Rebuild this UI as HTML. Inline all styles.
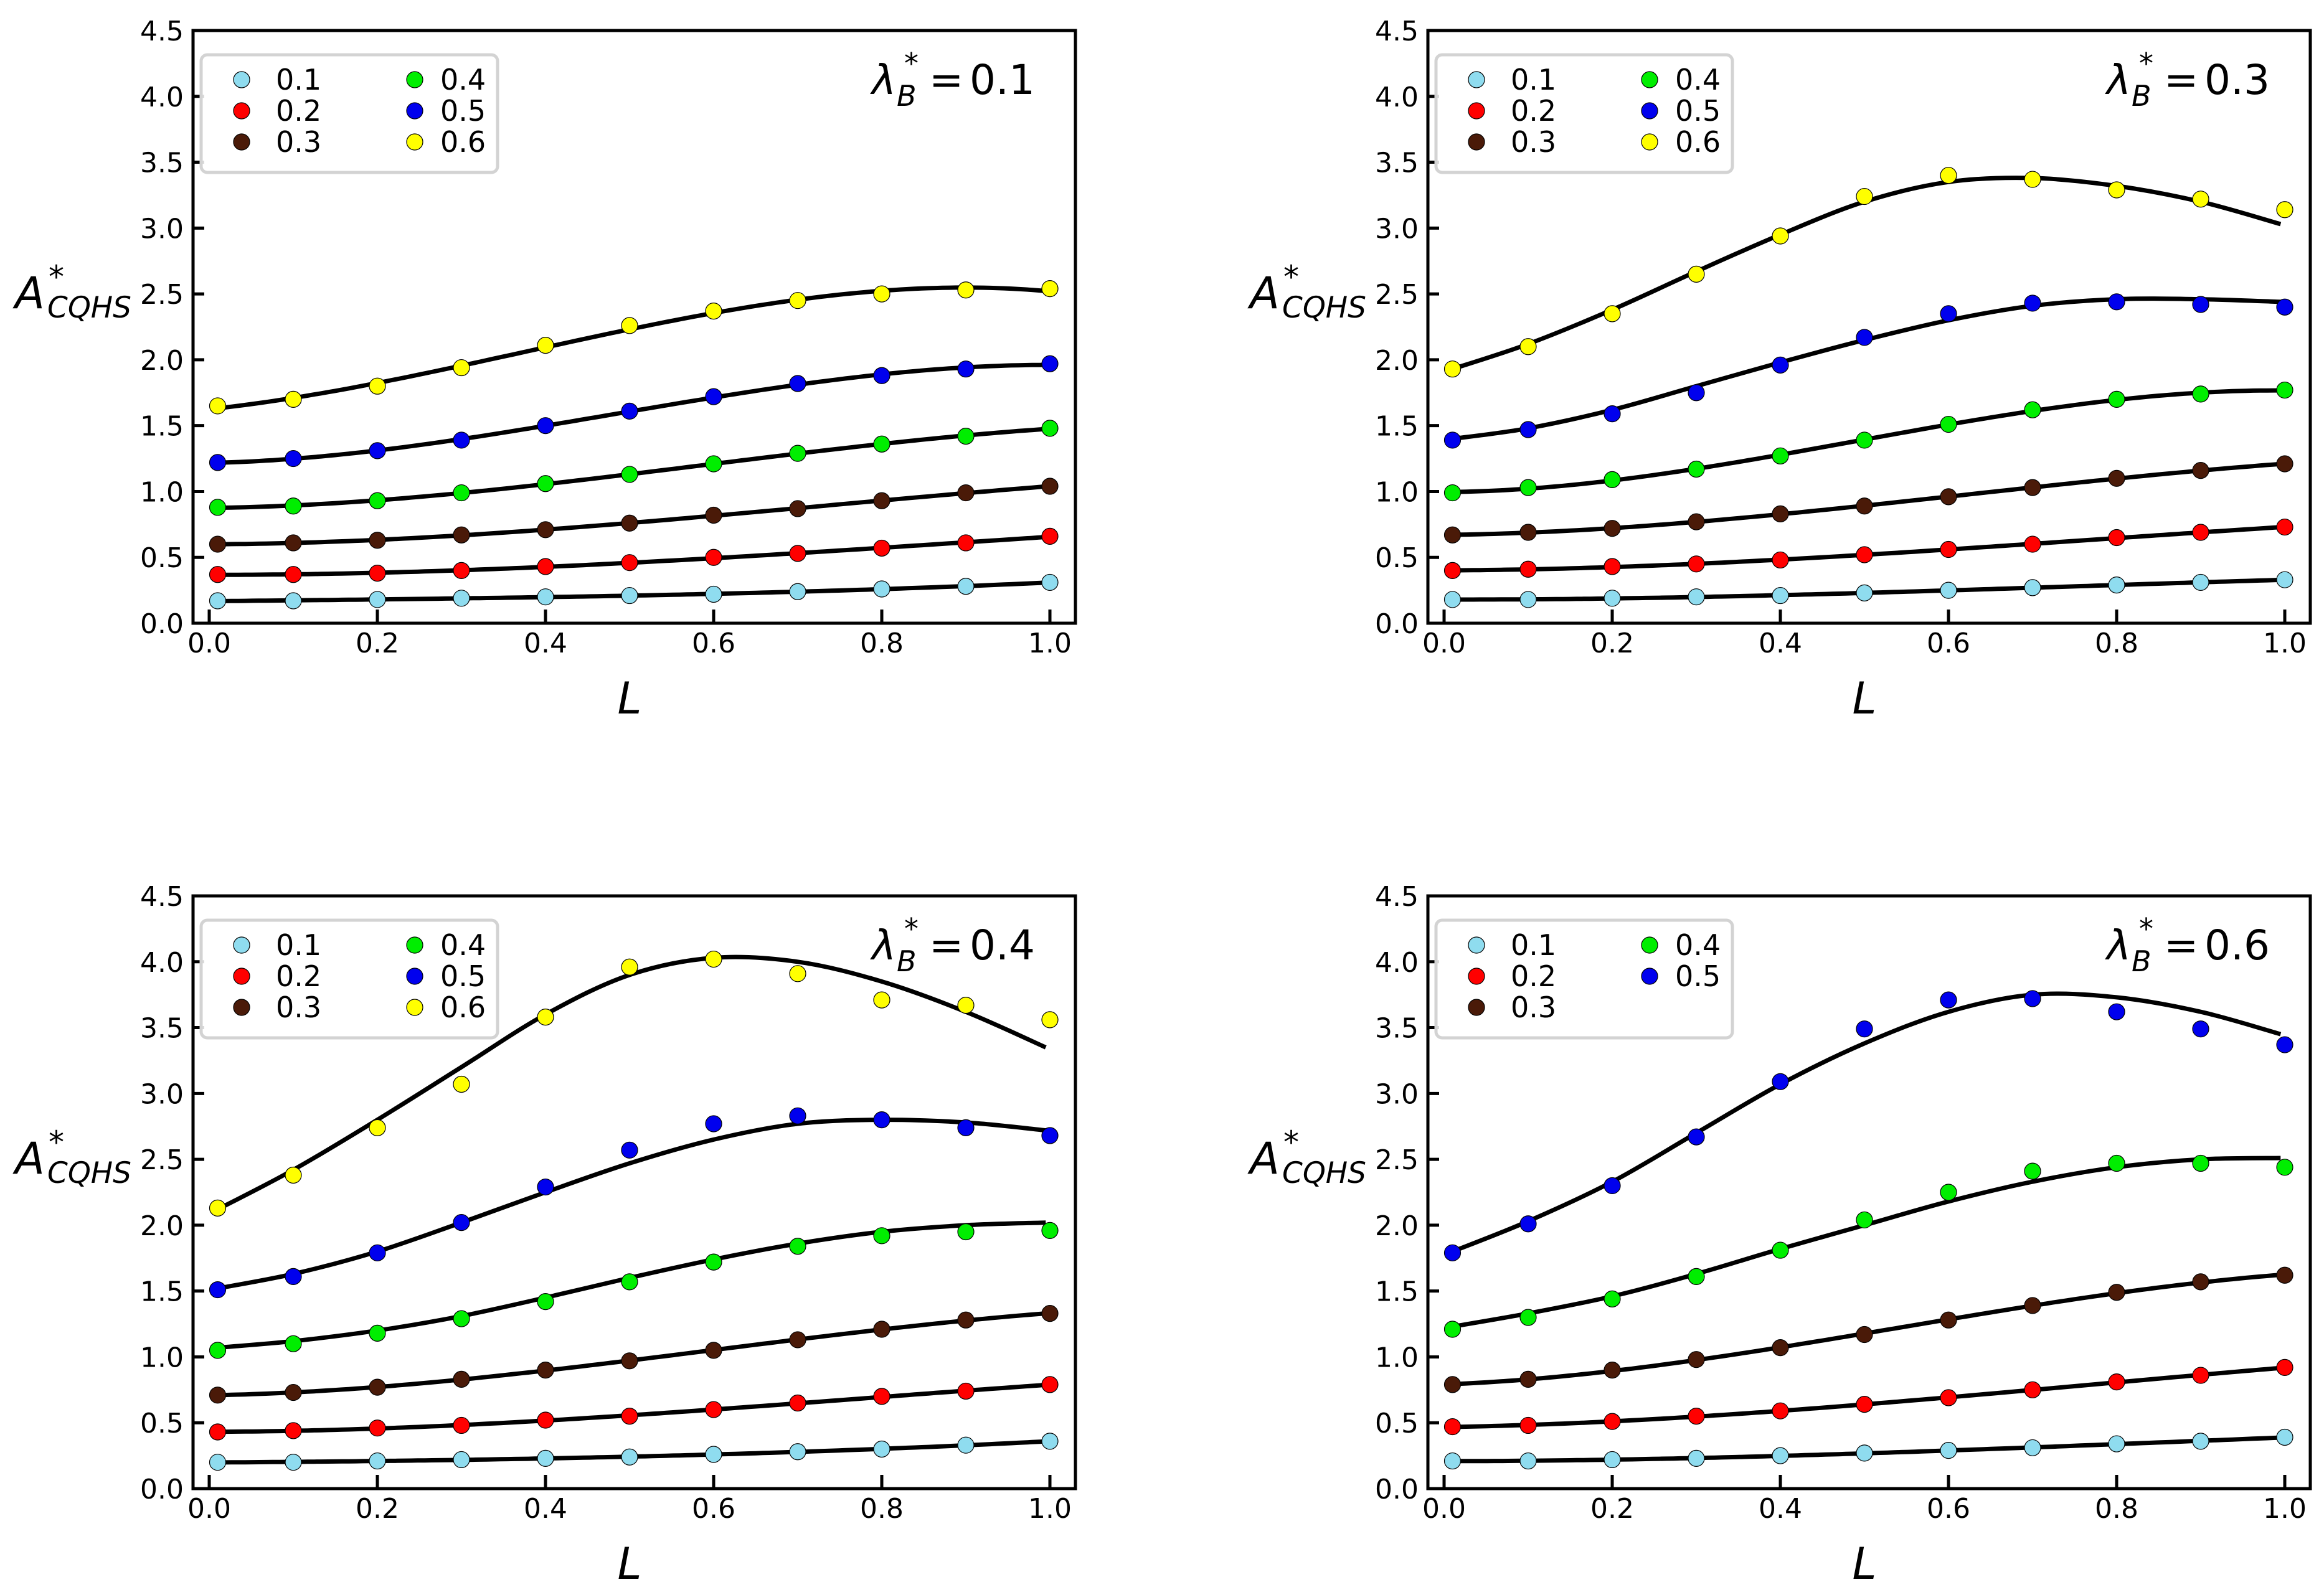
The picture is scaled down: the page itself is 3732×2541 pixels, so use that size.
<!DOCTYPE html>
<html><head><meta charset="utf-8"><style>
html,body{margin:0;padding:0;background:#fff;}
svg{display:block;}
text{font-family:"DejaVu Sans","Liberation Sans",sans-serif;fill:#000;}
</style></head><body>
<svg id="fig" width="3732" height="2541" viewBox="0 0 3732 2541" xmlns="http://www.w3.org/2000/svg"></svg>
<script>
const xValues=[0.01,0.1,0.2,0.3,0.4,0.5,0.6,0.7,0.8,0.9,1.0];
const curveX=[0.01,0.1,0.2,0.3,0.4,0.5,0.6,0.7,0.8,0.9,0.995];
const seriesLabels=["0.1","0.2","0.3","0.4","0.5","0.6"];
const seriesColors=["#8fdcef","#ff0000","#4a1a08","#00ee00","#0000ee","#ffff00"];
const yTicks=[0,0.5,1,1.5,2,2.5,3,3.5,4,4.5];
const xTicks=[0,0.2,0.4,0.6,0.8,1.0];
const panelTitles=["0.1","0.3","0.4","0.6"];
const p1=[[0.17,0.17,0.18,0.19,0.2,0.21,0.22,0.24,0.26,0.28,0.31],
[0.37,0.37,0.38,0.4,0.43,0.46,0.5,0.53,0.57,0.61,0.66],
[0.6,0.61,0.63,0.67,0.71,0.76,0.82,0.87,0.93,0.99,1.04],
[0.88,0.89,0.93,0.99,1.06,1.13,1.21,1.29,1.36,1.42,1.48],
[1.22,1.25,1.31,1.39,1.5,1.61,1.72,1.82,1.88,1.93,1.97],
[1.65,1.7,1.8,1.94,2.11,2.26,2.37,2.45,2.5,2.53,2.54]];
const p2=[[0.18,0.18,0.19,0.2,0.21,0.23,0.25,0.27,0.29,0.31,0.33],
[0.4,0.41,0.43,0.45,0.48,0.52,0.56,0.6,0.65,0.69,0.73],
[0.67,0.69,0.72,0.77,0.83,0.89,0.96,1.03,1.1,1.16,1.21],
[0.99,1.03,1.09,1.17,1.27,1.39,1.51,1.62,1.7,1.74,1.77],
[1.39,1.47,1.59,1.75,1.96,2.17,2.35,2.43,2.44,2.42,2.4],
[1.93,2.1,2.35,2.65,2.94,3.24,3.4,3.37,3.29,3.22,3.14]];
const p3=[[0.2,0.2,0.21,0.22,0.23,0.24,0.26,0.28,0.3,0.33,0.36],
[0.43,0.44,0.46,0.48,0.52,0.55,0.6,0.65,0.7,0.74,0.79],
[0.71,0.73,0.77,0.83,0.9,0.97,1.05,1.13,1.21,1.28,1.33],
[1.05,1.1,1.18,1.29,1.42,1.57,1.72,1.84,1.92,1.95,1.96],
[1.51,1.61,1.79,2.02,2.29,2.57,2.77,2.83,2.8,2.74,2.68],
[2.13,2.38,2.74,3.07,3.58,3.96,4.02,3.91,3.71,3.67,3.56]];
const p4=[[0.21,0.21,0.22,0.23,0.25,0.27,0.29,0.31,0.34,0.36,0.39],
[0.47,0.48,0.51,0.55,0.59,0.64,0.69,0.75,0.81,0.86,0.92],
[0.79,0.83,0.9,0.98,1.07,1.17,1.28,1.39,1.49,1.57,1.62],
[1.21,1.3,1.44,1.61,1.81,2.04,2.25,2.41,2.47,2.47,2.44],
[1.79,2.01,2.3,2.67,3.09,3.49,3.71,3.72,3.62,3.49,3.37]];
const panelData=[p1,p2,p3,p4];
// fitted-curve values (null = use cubic least-squares fit of points)
const c2_05=[1.4,1.48,1.62,1.8,1.98,2.15,2.3,2.41,2.46,2.46,2.44];
const c2_06=[1.93,2.12,2.38,2.67,2.95,3.2,3.35,3.38,3.32,3.2,3.03];
const c3_04=[1.07,1.12,1.2,1.31,1.45,1.6,1.74,1.86,1.95,2.0,2.02];
const c3_05=[1.52,1.63,1.8,2.02,2.25,2.47,2.65,2.77,2.8,2.78,2.72];
const c3_06=[2.12,2.42,2.8,3.2,3.6,3.9,4.03,4.0,3.85,3.62,3.35];
const c4_04=[1.23,1.33,1.46,1.63,1.82,2.0,2.18,2.33,2.44,2.5,2.51];
const c4_05=[1.8,2.03,2.33,2.7,3.07,3.38,3.62,3.75,3.73,3.62,3.45];
const panelCurves=[[null,null,null,null,null,null],[null,null,null,null,c2_05,c2_06],[null,null,null,c3_04,c3_05,c3_06],[null,null,null,c4_04,c4_05]];

const NS="http://www.w3.org/2000/svg";
const svg=document.getElementById('fig');
function mk(tag,attrs,parent){const e=document.createElementNS(NS,tag);for(const k in attrs)e.setAttribute(k,attrs[k]);(parent||svg).appendChild(e);return e;}
function fitCubic(xs,ys){const n=4;const A=[];for(let i=0;i<n;i++){A.push(new Array(n+1).fill(0));}
 for(let k=0;k<xs.length;k++){for(let i=0;i<n;i++){for(let j=0;j<n;j++)A[i][j]+=Math.pow(xs[k],i+j);A[i][n]+=ys[k]*Math.pow(xs[k],i);}}
 for(let i=0;i<n;i++){let p=i;for(let r=i+1;r<n;r++)if(Math.abs(A[r][i])>Math.abs(A[p][i]))p=r;[A[i],A[p]]=[A[p],A[i]];
  for(let r=0;r<n;r++){if(r===i)continue;const f=A[r][i]/A[i][i];for(let c=i;c<=n;c++)A[r][c]-=f*A[i][c];}}
 return A.map((row,i)=>row[n]/row[i]);}
function catmull(P){let d='M'+P[0][0].toFixed(1)+','+P[0][1].toFixed(1);
 for(let i=0;i<P.length-1;i++){const p0=P[i-1]||P[i],p1=P[i],p2=P[i+1],p3=P[i+2]||P[i+1];
  const c1=[p1[0]+(p2[0]-p0[0])/6,p1[1]+(p2[1]-p0[1])/6],c2=[p2[0]-(p3[0]-p1[0])/6,p2[1]-(p3[1]-p1[1])/6];
  d+='C'+c1[0].toFixed(1)+','+c1[1].toFixed(1)+' '+c2[0].toFixed(1)+','+c2[1].toFixed(1)+' '+p2[0].toFixed(1)+','+p2[1].toFixed(1);}
 return d;}
const offsets=[[0,0],[1983,0],[0,1390],[1983,1390]];
panelData.forEach((data,pi)=>{
 const ox=offsets[pi][0],oy=offsets[pi][1];
 const g=mk('g',{});
 
 
 const L=310+ox,R=1727+ox,T=49+oy,B=1001+oy;
 const sx=v=>336+ox+v*1350;
 const sy=v=>B-v*(B-T)/4.5;
 yTicks.forEach(t=>{const y=sy(t);
  const tk=mk('line',{x1:L,x2:L+18,y1:y,y2:y,stroke:'#000','stroke-width':5},g);
  
  
  const tl=mk('text',{x:295+ox,y:y+16,'text-anchor':'end','font-size':44},g);tl.textContent=t.toFixed(1);
  
  });
 xTicks.forEach(t=>{const x=sx(t);
  const tk=mk('line',{x1:x,x2:x,y1:B,y2:B-22,stroke:'#000','stroke-width':5},g);
  
  
  const tl=mk('text',{x:x,y:1048+oy,'text-anchor':'middle','font-size':44},g);tl.textContent=t.toFixed(1);
  
  });
 data.forEach((ys,si)=>{
  const cv=panelCurves[pi][si];let d='';
  if(cv){d=catmull(curveX.map((x,k)=>[sx(x),sy(cv[k])]));}
  else{const c=fitCubic(xValues,ys);
   for(let k=0;k<=120;k++){const x=0.01+k*(0.995-0.01)/120;const y=c[0]+c[1]*x+c[2]*x*x+c[3]*x*x*x;d+=(k?'L':'M')+sx(x).toFixed(1)+','+sy(y).toFixed(1);}}
  const pth=mk('path',{d:d,fill:'none',stroke:'#000','stroke-width':7,'stroke-linejoin':'round'},g);
  
  
 });
 data.forEach((ys,si)=>{
  ys.forEach((v,k)=>{const ci=mk('circle',{cx:sx(xValues[k]),cy:sy(v),r:13,fill:seriesColors[si],stroke:'#000','stroke-width':1.2},g);
   
   });
 });
 const fr=mk('rect',{x:L,y:T,width:R-L,height:B-T,fill:'none',stroke:'#000','stroke-width':5},g);
 
 
 const lg=mk('g',{},g);
 
 
 mk('rect',{x:323+ox,y:88+oy,width:476,height:189,rx:10,fill:'#fff','fill-opacity':0.85,stroke:'#d3d3d3','stroke-width':5},lg);
 data.forEach((ys,si)=>{const col=si<3?0:1,row=si%3;
  const mx=(col?666:388)+ox,my=[128,178,228][row]+oy;
  const e=mk('circle',{cx:mx,cy:my,r:13,fill:seriesColors[si],stroke:'#000','stroke-width':1.2},lg);
  
  
  const t=mk('text',{x:(col?707:443)+ox,y:my+16,'font-size':46},lg);t.textContent=seriesLabels[si];
  
  });
 // title
 const tg=mk('g',{},g);
 
 
 const t1=mk('text',{x:1400+ox,y:151+oy,'font-size':66,'font-style':'italic'},tg);t1.textContent='λ';
 const t2=mk('text',{x:1440+ox,y:170+oy,'font-size':46,'font-style':'italic'},tg);t2.textContent='B';
 const t3=mk('text',{x:1452+ox,y:118+oy,'font-size':46},tg);t3.textContent='*';
 const t4=mk('text',{x:1492+ox,y:151+oy,'font-size':66},tg);t4.textContent='=';
 const t5=mk('text',{x:1662+ox,y:151+oy,'font-size':66,'text-anchor':'end'},tg);t5.textContent=panelTitles[pi];
 // y label
 const yg=mk('g',{},g);
 
 
 const a1=mk('text',{x:24+ox,y:495+oy,'font-size':70,'font-style':'italic'},yg);a1.textContent='A';
 const a2=mk('text',{x:76+ox,y:510+oy,'font-size':47,'font-style':'italic'},yg);a2.textContent='CQHS';
 const a3=mk('text',{x:78+ox,y:462+oy,'font-size':50},yg);a3.textContent='*';
 const xl=mk('text',{x:1011+ox,y:1146+oy,'text-anchor':'middle','font-size':70,'font-style':'italic'},g);
 xl.textContent='L';
 
 
});
</script>
</body></html>
